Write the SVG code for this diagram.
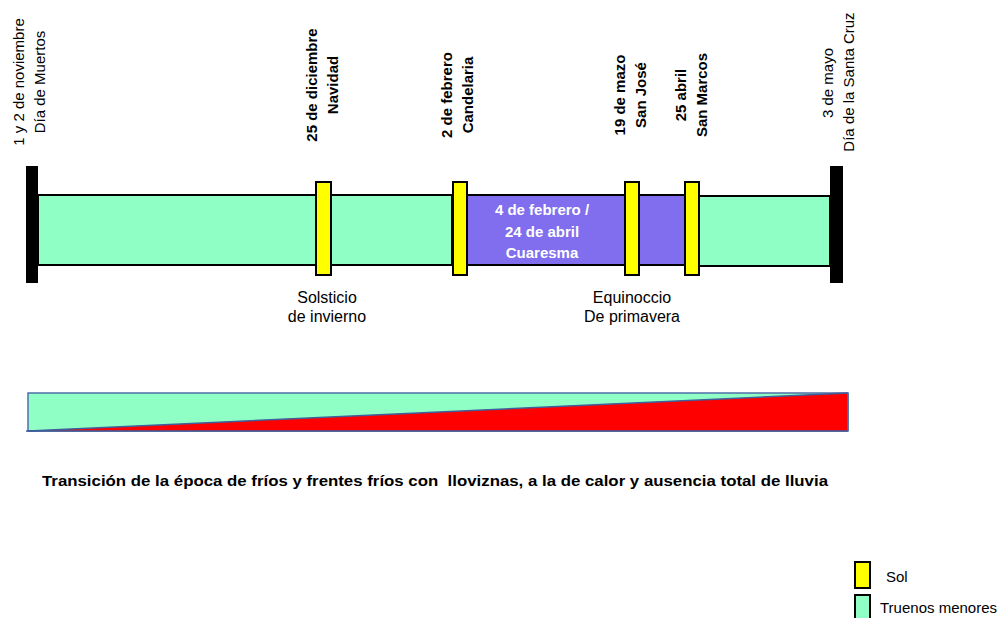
<svg xmlns="http://www.w3.org/2000/svg" width="1000" height="618" viewBox="0 0 1000 618">
<style>
text{font-family:"Liberation Sans",Arial,sans-serif;fill:#000}
.v{font-size:15px;text-anchor:middle}
.vb{font-size:15px;font-weight:bold;text-anchor:middle}
.lbl{font-size:16px;text-anchor:middle}
.sol{fill:#FFFF00;stroke:#000;stroke-width:2}
.tru{fill:#90FFC6;stroke:#000;stroke-width:2}
.cua{fill:#806EEE;stroke:#000;stroke-width:2}
.cap{fill:#000}
.w{fill:#fff;font-size:15px;font-weight:bold;text-anchor:middle}
</style>
<g id="connectors"></g>
<g id="timeline">
<rect id="verde-izq" class="tru" x="38" y="195" width="414" height="70"/>
<rect id="cuaresma-bar" class="cua" x="452" y="195" width="233" height="70"/>
<rect id="verde-der" class="tru" x="685" y="196" width="145" height="70"/>
</g>
<g id="muertos">
<rect class="cap" x="26" y="166" width="12" height="117"/>
<text class="v" transform="translate(24,82) rotate(-90)">1 y 2 de noviembre</text>
<text class="v" transform="translate(45,82) rotate(-90)">Día de Muertos</text>
</g>
<g id="navidad">
<rect class="sol" x="316" y="182" width="15" height="93"/>
<text class="vb" transform="translate(317,85) rotate(-90)">25 de diciembre</text>
<text class="vb" transform="translate(338,85) rotate(-90)">Navidad</text>
</g>
<g id="candelaria">
<rect class="sol" x="453" y="182" width="14" height="93"/>
<text class="vb" transform="translate(452,95) rotate(-90)">2 de febrero</text>
<text class="vb" transform="translate(473,95) rotate(-90)">Candelaria</text>
</g>
<g id="cuaresma">
<text class="w" x="542" y="215">4 de febrero /</text>
<text class="w" x="542" y="237">24 de abril</text>
<text class="w" x="542" y="258">Cuaresma</text>
</g>
<g id="sanjose">
<rect class="sol" x="625" y="182" width="14" height="93"/>
<text class="vb" transform="translate(625,95) rotate(-90)">19 de mazo</text>
<text class="vb" transform="translate(646,95) rotate(-90)">San José</text>
</g>
<g id="sanmarcos">
<rect class="sol" x="685" y="182" width="14" height="93"/>
<text class="vb" transform="translate(686,95) rotate(-90)">25 abril</text>
<text class="vb" transform="translate(707,95) rotate(-90)">San Marcos</text>
</g>
<g id="santacruz">
<rect class="cap" x="830" y="166" width="13" height="117"/>
<text class="v" transform="translate(833,83) rotate(-90)">3 de mayo</text>
<text class="v" transform="translate(854,82) rotate(-90)">Día de la Santa Cruz</text>
</g>
<g id="solsticio">
<text class="lbl" x="327" y="303">Solsticio</text>
<text class="lbl" x="327" y="322">de invierno</text>
</g>
<g id="equinoccio">
<text class="lbl" x="632" y="303">Equinoccio</text>
<text class="lbl" x="632" y="322">De primavera</text>
</g>
<g id="transicion">
<rect x="28" y="393" width="820" height="38" fill="#90FFC6" stroke="#4F6FA8" stroke-width="1.5"/>
<polygon points="28,431 848,393 848,431" fill="#FF0000"/>
<line x1="28" y1="431" x2="848" y2="393" stroke="#3F5E9A" stroke-width="1.5"/>
<line x1="26" y1="431" x2="848" y2="431" stroke="#3F5E9A" stroke-width="1.5"/>
<line x1="848" y1="393" x2="848" y2="431" stroke="#4F6FA8" stroke-width="1.5"/>
<text x="42" y="486" font-size="15" font-weight="bold" xml:space="preserve" textLength="786" lengthAdjust="spacingAndGlyphs">Transición de la época de fríos y frentes fríos con  lloviznas, a la de calor y ausencia total de lluvia</text>
</g>
<g id="leyenda-sol">
<rect class="sol" x="855" y="562" width="15" height="26"/>
<text x="886" y="582" font-size="15">Sol</text>
</g>
<g id="leyenda-truenos">
<rect class="tru" x="855" y="595" width="15" height="26"/>
<text x="880" y="613" font-size="15">Truenos menores</text>
</g>
</svg>
